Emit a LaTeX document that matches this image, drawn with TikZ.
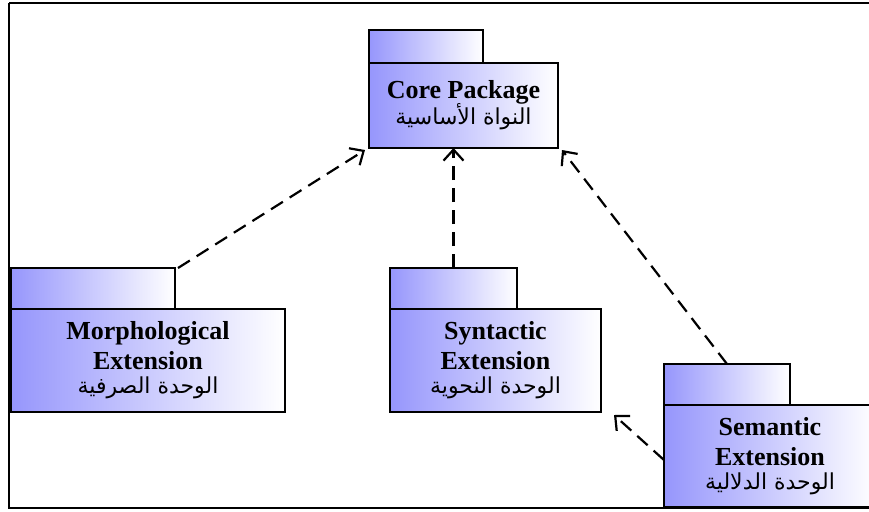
\documentclass[tikz,border=0pt]{standalone}
\usepackage{fontspec}
\setmainfont{Liberation Serif}
\newfontfamily\arabicfont[Script=Arabic]{DejaVu Sans}
\TeXXeTstate=1
\usetikzlibrary{arrows.meta,calc}

\definecolor{pkgblue}{RGB}{150,150,252}

\tikzset{
  pkgpart/.style={draw=black, line width=2pt, left color=pkgblue, right color=white,
    inner sep=0pt, outer sep=0pt, anchor=north west},
  pkgtab/.style={pkgpart, minimum height=#1},
  pkgbody/.style={pkgpart, align=center, font=\bfseries\fontsize{26}{30}\selectfont},
  depends/.style={draw=black, line width=2.2pt, dash pattern=on 14pt off 8pt,
    -{Straight Barb[length=11pt,width=20pt,line width=2.2pt]}}
}
\newcommand{\artext}[1]{{\arabicfont\mdseries\fontsize{22}{26}\selectfont\beginR #1\endR}}

\begin{document}
\begin{tikzpicture}[x=1pt,y=-1pt]
  \useasboundingbox (0,0) rectangle (869,511);
  \clip (0,0) rectangle (869,511);

  % outer frame
  \draw[line width=2pt] (9,3) -- (900,3) (9,3) -- (9,508) -- (900,508);

  % Core package
  \node[pkgtab=33pt, minimum width=114pt] (coretab) at (369,30) {};
  \node[pkgbody, minimum width=189pt, minimum height=85pt] (core) at (369,63)
    {Core Package\\[-4pt]\artext{النواة الأساسية}};

  % Morphological extension
  \node[pkgtab=41pt, minimum width=164pt] (morphtab) at (11,268) {};
  \node[pkgbody, minimum width=274pt, minimum height=103pt] (morph) at (11,309)
    {Morphological\\Extension\\[-6pt]\artext{الوحدة الصرفية}};

  % Syntactic extension
  \node[pkgtab=41pt, minimum width=127pt] (syntab) at (390,268) {};
  \node[pkgbody, minimum width=211pt, minimum height=103pt] (syn) at (390,309)
    {Syntactic\\Extension\\[-6pt]\artext{الوحدة النحوية}};

  % Semantic extension
  \node[pkgtab=41pt, minimum width=126pt] (semtab) at (664,364) {};
  \node[pkgbody, minimum width=212pt, minimum height=102pt] (sem) at (664,405)
    {Semantic\\Extension\\[-6pt]\artext{الوحدة الدلالية}};

  % dependencies
  \coordinate (coreL) at ($(core.south west)+(-4,2)$);
  \coordinate (coreR) at ($(core.south east)+(4,2)$);
  \coordinate (synR) at ($(syn.south east)+(13,3)$);
  \draw[depends] ($(morphtab.north east)+(3,0)$) -- (coreL);
  \draw[depends] (syntab.north) -- (syntab.north |- core.south);
  \draw[depends] (semtab.north) -- (coreR);
  \draw[depends] ($(sem.west)+(0,4)$) -- (synR);
\end{tikzpicture}
\end{document}
